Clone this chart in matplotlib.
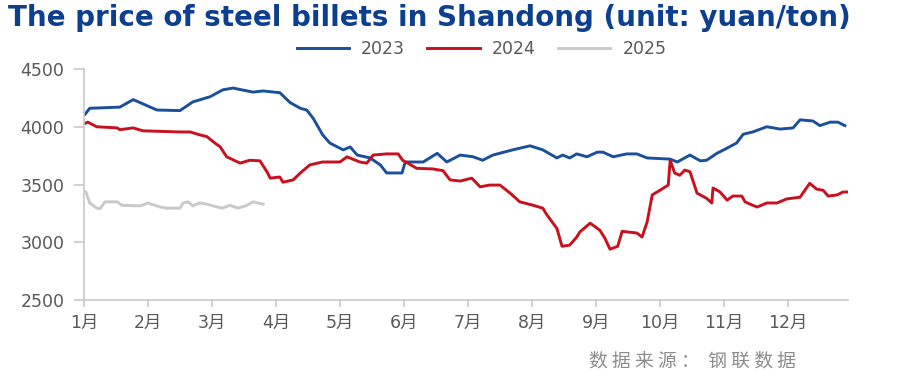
import matplotlib
matplotlib.use('Agg')
import matplotlib.pyplot as plt

plt.rcParams['font.family'] = ['DejaVu Sans', 'Noto Sans CJK SC']

# x = position in months (0 = 1月), values in yuan/ton
x_2023 = [0.02, 0.09, 0.56, 0.77, 1.14, 1.5, 1.70, 1.97, 2.17, 2.33, 2.64, 2.80, 3.06, 3.22, 3.38,
          3.48, 3.58, 3.73, 3.84, 4.05, 4.16, 4.27, 4.47, 4.63, 4.73, 4.97, 5.02, 5.30, 5.52, 5.67,
          5.88, 6.08, 6.23, 6.39, 6.70, 6.97, 7.17, 7.39, 7.48, 7.59, 7.70, 7.86, 8.02, 8.11, 8.27,
          8.48, 8.64, 8.80, 9.16, 9.27, 9.47, 9.63, 9.73, 9.89, 10.05, 10.20, 10.30, 10.45, 10.67,
          10.88, 11.08, 11.19, 11.39, 11.50, 11.66, 11.78, 11.89]
y_2023 = [4110, 4160, 4170, 4235, 4145, 4140, 4215, 4260, 4320, 4335, 4300, 4310, 4295, 4210, 4160,
          4145, 4075, 3930, 3860, 3800, 3825, 3755, 3730, 3670, 3600, 3600, 3695, 3695, 3770, 3695,
          3755, 3740, 3710, 3755, 3800, 3835, 3800, 3730, 3755, 3730, 3765, 3740, 3780, 3780, 3740,
          3765, 3765, 3730, 3720, 3695, 3755, 3705, 3710, 3770, 3815, 3860, 3935, 3955, 4000,
          3980, 3990, 4060, 4050, 4010, 4040, 4040, 4010]

x_2024 = [0.02, 0.06, 0.20, 0.52, 0.56, 0.77, 0.92, 1.5, 1.66, 1.81, 1.92, 2.02, 2.13, 2.23, 2.44,
          2.59, 2.75, 2.86, 2.91, 3.06, 3.11, 3.27, 3.38, 3.53, 3.73, 4.0, 4.11, 4.31, 4.42, 4.52,
          4.73, 4.91, 4.98, 5.20, 5.45, 5.61, 5.72, 5.88, 6.06, 6.19, 6.34, 6.5, 6.66, 6.81, 7.02,
          7.17, 7.23, 7.39, 7.47, 7.59, 7.70, 7.75, 7.91, 8.06, 8.14, 8.22, 8.34, 8.41, 8.48, 8.64,
          8.72, 8.80, 8.88, 9.0, 9.13, 9.16, 9.23, 9.31, 9.39, 9.47, 9.58, 9.73, 9.81, 9.83, 9.94,
          10.05, 10.14, 10.28, 10.33, 10.45, 10.52, 10.67, 10.83, 10.98, 11.19, 11.34, 11.45, 11.55,
          11.63, 11.77, 11.86, 11.92]
y_2024 = [4030, 4040, 4000, 3990, 3975, 3990, 3965, 3955, 3955, 3930, 3915, 3870, 3825, 3740, 3685,
          3710, 3705, 3610, 3555, 3565, 3520, 3540, 3600, 3670, 3695, 3695, 3740, 3695, 3685, 3755,
          3765, 3765, 3710, 3640, 3635, 3620, 3540, 3530, 3555, 3480, 3495, 3495, 3425, 3350, 3320,
          3295, 3240, 3120, 2965, 2975, 3045, 3090, 3165, 3105, 3035, 2940, 2965, 3095, 3090, 3080,
          3045, 3175, 3410, 3450, 3495, 3710, 3600, 3580, 3625, 3610, 3425, 3380, 3340, 3470, 3435,
          3365, 3400, 3400, 3350, 3320, 3305, 3340, 3340, 3375, 3390, 3510, 3460, 3450,
          3400, 3410, 3435, 3435]

x_2025 = [0, 0.03, 0.09, 0.20, 0.25, 0.33, 0.52, 0.59, 0.88, 1.0, 1.19, 1.30, 1.5, 1.55, 1.63,
          1.70, 1.81, 1.92, 2.02, 2.16, 2.28, 2.41, 2.55, 2.64, 2.72, 2.80]
y_2025 = [3440, 3435, 3340, 3295, 3290, 3350, 3350, 3320, 3315, 3340, 3305, 3295, 3295, 3340, 3350,
          3315, 3340, 3330, 3315, 3295, 3320, 3295, 3320, 3350, 3340, 3330]

months = ['1月', '2月', '3月', '4月', '5月', '6月', '7月', '8月', '9月', '10月', '11月', '12月']
yticks = [2500, 3000, 3500, 4000, 4500]

fig = plt.figure(figsize=(9, 3.83), dpi=100)
ax = fig.add_axes([0.0933, 0.2167, 0.849, 0.6031])

ax.plot(x_2023, y_2023, color='#1a4f9c', lw=2.1, label='2023')
ax.plot(x_2024, y_2024, color='#c8101e', lw=2.1, label='2024')
ax.plot(x_2025, y_2025, color='#c9c9c9', lw=2.1, label='2025')

ax.set_xlim(0, 11.94)
ax.set_ylim(2500, 4500)
ax.set_xticks(range(12))
ax.set_xticklabels(months)
ax.set_yticks(yticks)

for s in ['top', 'right']:
    ax.spines[s].set_visible(False)
for s in ['left', 'bottom']:
    ax.spines[s].set_color('#c8c8c8')
    ax.spines[s].set_linewidth(1.2)
ax.tick_params(axis='both', colors='#c8c8c8', width=1.2,
               labelcolor='#595959', labelsize=12.5)
ax.tick_params(axis='x', length=5, pad=5)
ax.tick_params(axis='y', length=7, pad=7)

fig.text(0.009, 0.952, 'The price of steel billets in Shandong (unit: yuan/ton)',
         fontsize=20, fontweight='bold', color='#0d3f8f', ha='left', va='center')

fig.legend(loc='center', bbox_to_anchor=(0.535, 0.873), ncol=3, frameon=False,
           fontsize=12.5, labelcolor='#595959', handlelength=3.0, columnspacing=1.3,
           handletextpad=0.7)

fig.text(0.769, 0.058, '数 据 来 源 ：  钢 联 数 据', fontsize=13.5, color='#8c8c8c',
         ha='center', va='center', family=['Noto Sans CJK SC', 'DejaVu Sans'])

fig.savefig('out.png', dpi=100)
